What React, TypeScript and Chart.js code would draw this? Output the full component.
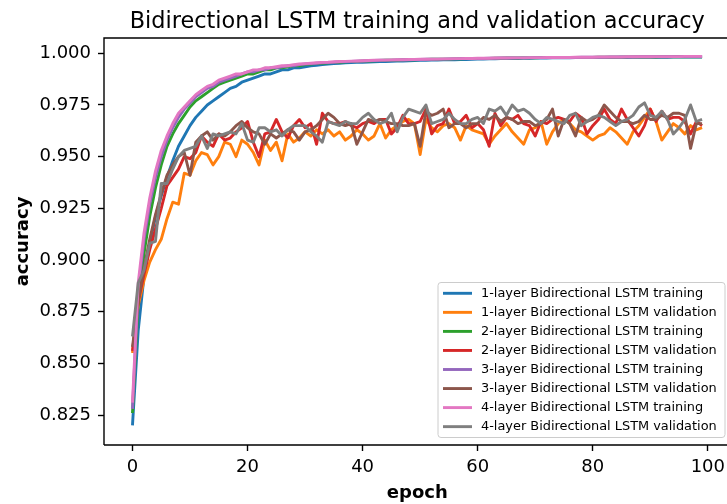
import React, { useEffect, useRef } from "react";
import { Chart, registerables } from "chart.js";

Chart.register(...registerables);

const TITLE = "Bidirectional LSTM training and validation accuracy";
const X_LABEL = "epoch";
const Y_LABEL = "accuracy";

const epochs: number[] = Array.from({ length: 100 }, (_, i) => i);
const xTicks = [0, 20, 40, 60, 80, 100];
const yTicks = [0.825, 0.85, 0.875, 0.9, 0.925, 0.95, 0.975, 1.0];

const seriesNames = [
  "1-layer Bidirectional LSTM training",
  "1-layer Bidirectional LSTM validation",
  "2-layer Bidirectional LSTM training",
  "2-layer Bidirectional LSTM validation",
  "3-layer Bidirectional LSTM training",
  "3-layer Bidirectional LSTM validation",
  "4-layer Bidirectional LSTM training",
  "4-layer Bidirectional LSTM validation",
];
const colors = ["#1f77b4", "#ff7f0e", "#2ca02c", "#d62728", "#9467bd", "#8c564b", "#e377c2", "#7f7f7f"];

const train1 = [
  0.820, 0.866, 0.892, 0.908, 0.921, 0.931, 0.940, 0.948, 0.955, 0.960,
  0.965, 0.969, 0.972, 0.975, 0.977, 0.979, 0.981, 0.983, 0.984, 0.986,
  0.987, 0.988, 0.989, 0.990, 0.990, 0.991, 0.992, 0.992, 0.993, 0.993,
  0.9935, 0.994, 0.9942, 0.9945, 0.9948, 0.995, 0.9952, 0.9954, 0.9955, 0.9956,
  0.9957, 0.9958, 0.9959, 0.996, 0.996, 0.9961, 0.9962, 0.9963, 0.9964, 0.9965,
  0.9966, 0.9966, 0.9967, 0.9967, 0.9968, 0.9969, 0.9969, 0.997, 0.997, 0.9971,
  0.9972, 0.9972, 0.9973, 0.9973, 0.9974, 0.9974, 0.9975, 0.9975, 0.9976, 0.9976,
  0.9977, 0.9977, 0.9977, 0.9978, 0.9979, 0.9978, 0.9978, 0.9979, 0.9979, 0.9979,
  0.998, 0.998, 0.998, 0.998, 0.998, 0.9981, 0.998, 0.9981, 0.9981, 0.9981,
  0.9981, 0.9981, 0.9982, 0.9981, 0.9982, 0.9982, 0.9982, 0.9982, 0.9982, 0.9982,
];
const val1 = [
  0.855, 0.878, 0.890, 0.899, 0.905, 0.910, 0.920, 0.928, 0.927, 0.942,
  0.941, 0.948, 0.952, 0.951, 0.946, 0.950, 0.957, 0.956, 0.950, 0.958,
  0.956, 0.952, 0.946, 0.958, 0.953, 0.957, 0.948, 0.961, 0.957, 0.959,
  0.962, 0.960, 0.963, 0.961, 0.963, 0.960, 0.962, 0.958, 0.960, 0.963,
  0.961, 0.958, 0.960, 0.966, 0.959, 0.963, 0.965, 0.967, 0.968, 0.966,
  0.951, 0.968, 0.964, 0.962, 0.965, 0.966, 0.964, 0.958, 0.965, 0.963,
  0.962, 0.961, 0.956, 0.960, 0.963, 0.966, 0.962, 0.959, 0.956, 0.963,
  0.964, 0.967, 0.956, 0.962, 0.966, 0.968, 0.966, 0.963, 0.962, 0.960,
  0.958, 0.960, 0.961, 0.964, 0.962, 0.959, 0.956, 0.962, 0.965, 0.969,
  0.973, 0.967, 0.958, 0.962, 0.966, 0.964, 0.961, 0.965, 0.963, 0.964,
];
const train2 = [
  0.826, 0.880, 0.903, 0.921, 0.935, 0.946, 0.955, 0.961, 0.966, 0.970,
  0.974, 0.977, 0.979, 0.981, 0.983, 0.985, 0.986, 0.987, 0.988, 0.989,
  0.990, 0.990, 0.991, 0.992, 0.992, 0.993, 0.993, 0.9935, 0.994, 0.994,
  0.9945, 0.9948, 0.995, 0.9952, 0.9954, 0.9956, 0.9957, 0.9959, 0.996, 0.9961,
  0.9962, 0.9963, 0.9964, 0.9965, 0.9966, 0.9967, 0.9967, 0.9968, 0.9969, 0.9969,
  0.997, 0.997, 0.9971, 0.9971, 0.9972, 0.9972, 0.9973, 0.9973, 0.9974, 0.9974,
  0.9975, 0.9975, 0.9975, 0.9976, 0.9976, 0.9977, 0.9977, 0.9977, 0.9978, 0.9978,
  0.9978, 0.9979, 0.9979, 0.9979, 0.9979, 0.998, 0.998, 0.998, 0.998, 0.998,
  0.998, 0.9981, 0.9981, 0.9981, 0.9981, 0.9981, 0.9982, 0.9982, 0.9982, 0.9982,
  0.9982, 0.9982, 0.9983, 0.9983, 0.9983, 0.9983, 0.9983, 0.9983, 0.9983, 0.9983,
];
const val2 = [
  0.856, 0.880, 0.893, 0.905, 0.915, 0.925, 0.936, 0.940, 0.944, 0.950,
  0.949, 0.952, 0.960, 0.957, 0.955, 0.961, 0.958, 0.959, 0.962, 0.964,
  0.967, 0.957, 0.950, 0.961, 0.962, 0.968, 0.962, 0.959, 0.965, 0.968,
  0.964, 0.966, 0.956, 0.971, 0.967, 0.966, 0.966, 0.967, 0.965, 0.964,
  0.966, 0.967, 0.966, 0.968, 0.968, 0.961, 0.964, 0.970, 0.966, 0.966,
  0.967, 0.973, 0.961, 0.965, 0.966, 0.973, 0.966, 0.967, 0.970, 0.964,
  0.966, 0.963, 0.955, 0.971, 0.965, 0.969, 0.968, 0.970, 0.966, 0.965,
  0.960, 0.967, 0.966, 0.968, 0.969, 0.968, 0.967, 0.971, 0.969, 0.961,
  0.965, 0.968, 0.973, 0.968, 0.966, 0.973, 0.968, 0.964, 0.960, 0.965,
  0.973, 0.967, 0.972, 0.968, 0.969, 0.969, 0.967, 0.961, 0.967, 0.965,
];
const train3 = [
  0.828, 0.886, 0.910, 0.927, 0.940, 0.950, 0.958, 0.964, 0.969, 0.973,
  0.976, 0.979, 0.981, 0.983, 0.984, 0.986, 0.987, 0.988, 0.989, 0.990,
  0.991, 0.991, 0.992, 0.992, 0.993, 0.993, 0.9935, 0.994, 0.994, 0.9945,
  0.9948, 0.995, 0.9952, 0.9954, 0.9956, 0.9957, 0.9959, 0.996, 0.9961, 0.9962,
  0.9963, 0.9964, 0.9965, 0.9966, 0.9967, 0.9967, 0.9968, 0.9969, 0.9969, 0.997,
  0.997, 0.9971, 0.9971, 0.9972, 0.9972, 0.9973, 0.9973, 0.9974, 0.9974, 0.9975,
  0.9975, 0.9975, 0.9976, 0.9976, 0.9977, 0.9977, 0.9977, 0.9978, 0.9978, 0.9978,
  0.9979, 0.9979, 0.9979, 0.998, 0.998, 0.998, 0.998, 0.998, 0.9981, 0.9981,
  0.9981, 0.9981, 0.9981, 0.9982, 0.9982, 0.9982, 0.9982, 0.9982, 0.9983, 0.9983,
  0.9983, 0.9983, 0.9983, 0.9983, 0.9984, 0.9984, 0.9984, 0.9984, 0.9984, 0.9984,
];
const val3 = [
  0.858, 0.880, 0.896, 0.910, 0.922, 0.932, 0.941, 0.946, 0.950, 0.952,
  0.941, 0.957, 0.960, 0.962, 0.958, 0.961, 0.960, 0.962, 0.965, 0.967,
  0.964, 0.962, 0.961, 0.956, 0.961, 0.959, 0.961, 0.963, 0.962, 0.958,
  0.962, 0.963, 0.965, 0.968, 0.971, 0.969, 0.966, 0.965, 0.966, 0.956,
  0.962, 0.968, 0.967, 0.968, 0.967, 0.966, 0.966, 0.965, 0.965, 0.966,
  0.955, 0.972, 0.970, 0.971, 0.973, 0.964, 0.966, 0.966, 0.964, 0.966,
  0.966, 0.969, 0.968, 0.970, 0.967, 0.969, 0.968, 0.966, 0.967, 0.967,
  0.965, 0.966, 0.968, 0.973, 0.960, 0.968, 0.966, 0.960, 0.969, 0.967,
  0.968, 0.970, 0.975, 0.972, 0.969, 0.967, 0.967, 0.966, 0.967, 0.970,
  0.968, 0.968, 0.970, 0.969, 0.971, 0.971, 0.970, 0.954, 0.966, 0.966,
];
const train4 = [
  0.831, 0.889, 0.913, 0.930, 0.943, 0.953, 0.960, 0.966, 0.971, 0.974,
  0.977, 0.980, 0.982, 0.984, 0.985, 0.987, 0.988, 0.989, 0.990, 0.990,
  0.991, 0.992, 0.992, 0.993, 0.993, 0.9935, 0.994, 0.994, 0.9945, 0.9948,
  0.995, 0.9952, 0.9954, 0.9956, 0.9957, 0.9959, 0.996, 0.9961, 0.9962, 0.9963,
  0.9964, 0.9965, 0.9966, 0.9967, 0.9967, 0.9968, 0.9969, 0.9969, 0.997, 0.997,
  0.9971, 0.9971, 0.9972, 0.9972, 0.9973, 0.9973, 0.9974, 0.9974, 0.9975, 0.9975,
  0.9976, 0.9976, 0.9976, 0.9977, 0.9977, 0.9977, 0.9978, 0.9978, 0.9978, 0.9979,
  0.9979, 0.9979, 0.998, 0.998, 0.998, 0.998, 0.998, 0.9981, 0.9981, 0.9981,
  0.9981, 0.9982, 0.9982, 0.9982, 0.9982, 0.9982, 0.9983, 0.9983, 0.9983, 0.9983,
  0.9983, 0.9984, 0.9984, 0.9984, 0.9984, 0.9984, 0.9985, 0.9985, 0.9985, 0.9985,
];
const val4 = [
  0.863, 0.889, 0.895, 0.908, 0.909, 0.937, 0.937, 0.944, 0.950, 0.953,
  0.954, 0.955, 0.960, 0.954, 0.961, 0.960, 0.961, 0.962, 0.961, 0.966,
  0.958, 0.957, 0.964, 0.964, 0.962, 0.963, 0.960, 0.963, 0.965, 0.965,
  0.965, 0.962, 0.960, 0.957, 0.967, 0.966, 0.965, 0.967, 0.966, 0.966,
  0.969, 0.971, 0.968, 0.966, 0.967, 0.971, 0.962, 0.969, 0.973, 0.972,
  0.971, 0.975, 0.966, 0.967, 0.968, 0.971, 0.968, 0.966, 0.966, 0.968,
  0.969, 0.966, 0.973, 0.972, 0.974, 0.970, 0.975, 0.972, 0.973, 0.971,
  0.968, 0.966, 0.969, 0.968, 0.967, 0.966, 0.970, 0.971, 0.965, 0.967,
  0.969, 0.970, 0.969, 0.967, 0.965, 0.967, 0.968, 0.970, 0.974, 0.976,
  0.970, 0.969, 0.972, 0.968, 0.961, 0.964, 0.968, 0.975, 0.967, 0.968,
];

const FONT = "'DejaVu Sans', sans-serif";

export default function App() {
  const ref = useRef<HTMLCanvasElement>(null);

  useEffect(() => {
    const canvas = ref.current;
    if (!canvas) return;
    const series = [train1, val1, train2, val2, train3, val3, train4, val4];

    const decor = {
      id: "mplDecor",
      afterDraw(chart: any) {
        const { ctx, chartArea: a } = chart;
        ctx.save();
        // frame (spines)
        ctx.strokeStyle = "#000";
        ctx.lineWidth = 1.4;
        ctx.beginPath();
        ctx.moveTo(a.left, a.bottom);
        ctx.lineTo(a.left, a.top);
        ctx.lineTo(a.right + 10, a.top);
        ctx.moveTo(a.left, a.bottom);
        ctx.lineTo(a.right + 10, a.bottom);
        ctx.stroke();

        // title
        ctx.fillStyle = "#000";
        ctx.font = `22.4px ${FONT}`;
        ctx.textAlign = "center";
        ctx.textBaseline = "alphabetic";
        ctx.fillText(TITLE, (a.left + a.right) / 2, 28);

        // axis labels
        ctx.font = `bold 18px ${FONT}`;
        ctx.fillText(X_LABEL, (a.left + a.right) / 2, 498);
        ctx.save();
        ctx.translate(28, (a.top + a.bottom) / 2);
        ctx.rotate(-Math.PI / 2);
        ctx.fillText(Y_LABEL, 0, 0);
        ctx.restore();

        // legend
        const bx = 438, by = 282.5, bw = 287, bh = 155, r = 3;
        ctx.beginPath();
        ctx.moveTo(bx + r, by);
        ctx.lineTo(bx + bw - r, by);
        ctx.arcTo(bx + bw, by, bx + bw, by + r, r);
        ctx.lineTo(bx + bw, by + bh - r);
        ctx.arcTo(bx + bw, by + bh, bx + bw - r, by + bh, r);
        ctx.lineTo(bx + r, by + bh);
        ctx.arcTo(bx, by + bh, bx, by + bh - r, r);
        ctx.lineTo(bx, by + r);
        ctx.arcTo(bx, by, bx + r, by, r);
        ctx.closePath();
        ctx.fillStyle = "rgba(255,255,255,0.8)";
        ctx.fill();
        ctx.strokeStyle = "#cccccc";
        ctx.lineWidth = 1;
        ctx.stroke();

        ctx.font = `12.9px ${FONT}`;
        ctx.textAlign = "left";
        ctx.textBaseline = "middle";
        seriesNames.forEach((name, i) => {
          const cy = 293.3 + i * 19.05;
          ctx.strokeStyle = colors[i];
          ctx.lineWidth = 2.9;
          ctx.beginPath();
          ctx.moveTo(443, cy);
          ctx.lineTo(472, cy);
          ctx.stroke();
          ctx.fillStyle = "#000";
          ctx.fillText(name, 481, cy);
        });
        ctx.restore();
      },
    };

    const chart = new Chart(canvas, {
      type: "line",
      data: {
        datasets: series.map((vals, i) => ({
          label: seriesNames[i],
          data: vals.map((v, j) => ({ x: epochs[j], y: v })),
          borderColor: colors[i],
          backgroundColor: colors[i],
          borderWidth: 2.9,
          pointRadius: 0,
          tension: 0,
          fill: false,
          borderJoinStyle: "round" as const,
          order: 7 - i,
        })),
      },
      options: {
        animation: false,
        responsive: false,
        devicePixelRatio: 1,
        events: [],
        layout: { padding: { top: 38, left: 0, right: 0, bottom: 0 } },
        plugins: {
          legend: { display: false },
          title: { display: false },
          tooltip: { enabled: false },
        },
        scales: {
          x: {
            type: "linear",
            min: -4.95,
            max: 103.95,
            afterBuildTicks: (s: any) => {
              s.ticks = xTicks.map((v) => ({ value: v }));
            },
            afterFit: (s: any) => {
              s.height = 59;
            },
            grid: {
              drawOnChartArea: false,
              drawTicks: true,
              tickLength: 6,
              tickColor: "#000",
              tickWidth: 1.4,
            },
            border: { display: false },
            ticks: {
              color: "#000",
              font: { family: FONT, size: 18 },
              padding: 6,
              maxRotation: 0,
              autoSkip: false,
              callback: (v: any) => String(v),
            },
          },
          y: {
            type: "linear",
            min: 0.8105,
            max: 1.0074,
            afterBuildTicks: (s: any) => {
              s.ticks = yTicks.map((v) => ({ value: v }));
            },
            afterFit: (s: any) => {
              s.width = 104;
            },
            grid: {
              drawOnChartArea: false,
              drawTicks: true,
              tickLength: 6,
              tickColor: "#000",
              tickWidth: 1.4,
            },
            border: { display: false },
            ticks: {
              color: "#000",
              font: { family: FONT, size: 18 },
              padding: 7,
              autoSkip: false,
              callback: (v: any) => Number(v).toFixed(3),
            },
          },
        },
      },
      plugins: [decor],
    });

    return () => chart.destroy();
  }, []);

  return (
    <div
      style={{
        position: "fixed",
        left: 0,
        top: 0,
        width: 727,
        height: 504,
        overflow: "hidden",
        background: "#fff",
      }}
    >
      <canvas ref={ref} width={731} height={504} style={{ display: "block", width: 731, height: 504 }} />
    </div>
  );
}
